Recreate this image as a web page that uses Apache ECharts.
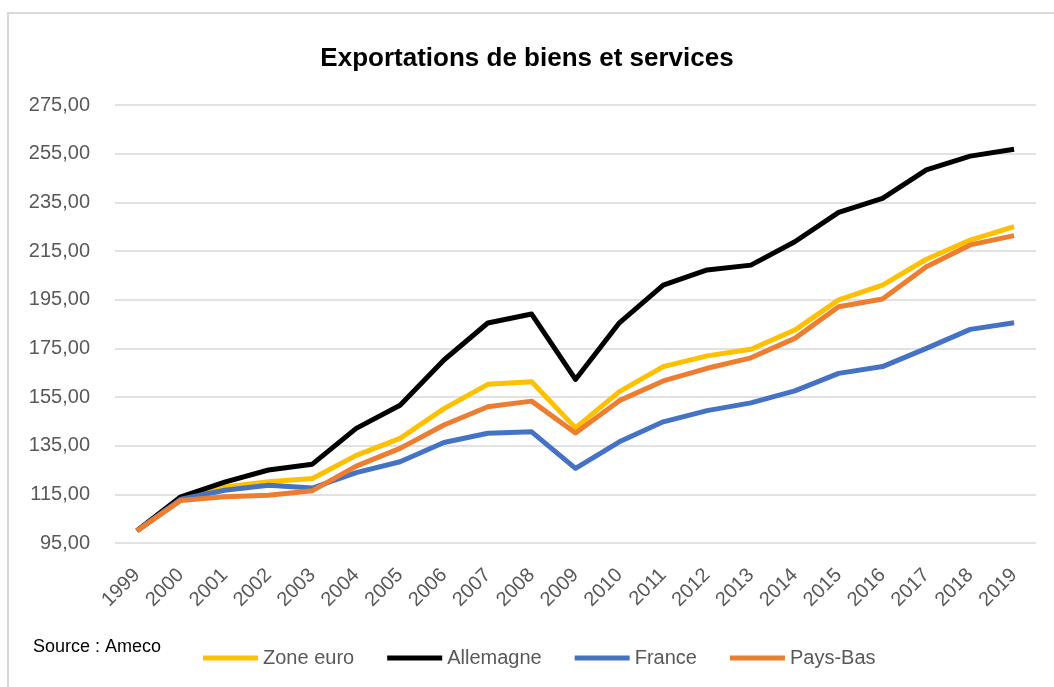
<!DOCTYPE html>
<html>
<head>
<meta charset="utf-8">
<title>Exportations de biens et services</title>
<script src="https://cdn.jsdelivr.net/npm/echarts@6/dist/echarts.min.js"></script>
<style>
  html, body { margin: 0; padding: 0; background: #fff; }
  #myChart { width: 1054px; height: 687px; }
</style>
</head>
<body>
<div id="myChart"></div>
<script>
// années
var years = ['1999','2000','2001','2002','2003','2004','2005','2006','2007','2008','2009',
  '2010','2011','2012','2013','2014','2015','2016','2017','2018','2019'];

// indices (base 100 en 1999)
var zoneEuro  = [100, 113, 118, 120.2, 121.5, 131, 138, 150.2, 160.2, 161.3, 142.3,
  157.2, 167.5, 171.9, 174.6, 182.5, 194.9, 201, 211.6, 219.5, 225];
var allemagne = [100, 114, 120, 125, 127.4, 142.1, 151.6, 170.2, 185.4, 189.1, 162.2,
  185.5, 201, 207.2, 209.2, 218.8, 230.9, 236.6, 248.3, 254, 256.8];
var france    = [100, 113, 116.7, 118.7, 117.6, 123.9, 128.4, 136.3, 140.1, 140.7, 125.7,
  136.6, 144.8, 149.4, 152.6, 157.5, 164.7, 167.5, 175, 182.8, 185.5];
var paysBas   = [100, 112.5, 114, 114.6, 116.5, 126.6, 133.9, 143.5, 151, 153.3, 140.2,
  153.5, 161.6, 166.8, 171.1, 179.1, 192.1, 195.3, 208.5, 217.5, 221.3];

var seriesNames = ['Zone euro', 'Allemagne', 'France', 'Pays-Bas'];
var seriesColors = ['#FFC000', '#000000', '#4472C4', '#ED7D31'];

var chart = echarts.init(document.getElementById('myChart'));

function makeSeries(name, data, color) {
  return {
    name: name,
    type: 'line',
    data: data,
    symbol: 'none',
    lineStyle: { width: 5, color: color, join: 'round' },
    itemStyle: { color: color }
  };
}

chart.setOption({
  animation: false,
  textStyle: { fontFamily: 'Liberation Sans' },
  graphic: [
    {
      type: 'rect',
      shape: { x: 8, y: 13, width: 1100, height: 700 },
      style: { fill: 'none', stroke: '#d9d9d9', lineWidth: 2 }
    },
    {
      type: 'text',
      left: 33,
      top: 638,
      style: { text: 'Source : Ameco', fontSize: 18, fill: '#000', fontFamily: 'Liberation Sans' }
    }
  ],
  title: {
    text: 'Exportations de biens et services',
    left: 'center',
    top: 41,
    textStyle: { fontSize: 26, fontWeight: 'bold', color: '#000' }
  },
  grid: {
    left: 115,
    right: 18,
    top: 105,
    bottom: 144
  },
  legend: {
    left: 198,
    top: 643,
    icon: 'rect',
    itemWidth: 55,
    itemHeight: 5,
    itemGap: 33,
    textStyle: { fontSize: 20, color: '#595959' },
    data: seriesNames
  },
  xAxis: {
    type: 'category',
    data: years,
    boundaryGap: true,
    axisLine: { show: false },
    axisTick: { show: false },
    axisLabel: { rotate: 45, fontSize: 20, color: '#595959', margin: 29 }
  },
  yAxis: {
    type: 'value',
    min: 95,
    max: 275,
    interval: 20,
    axisLine: { show: false },
    axisTick: { show: false },
    axisLabel: {
      fontSize: 20,
      color: '#595959',
      margin: 25,
      formatter: function (v) { return v.toFixed(2).replace('.', ','); }
    },
    splitLine: { lineStyle: { color: '#d9d9d9', width: 1.5 } }
  },
  series: [
    makeSeries(seriesNames[0], zoneEuro, seriesColors[0]),
    makeSeries(seriesNames[1], allemagne, seriesColors[1]),
    makeSeries(seriesNames[2], france, seriesColors[2]),
    makeSeries(seriesNames[3], paysBas, seriesColors[3])
  ]
});
</script>
</body>
</html>
